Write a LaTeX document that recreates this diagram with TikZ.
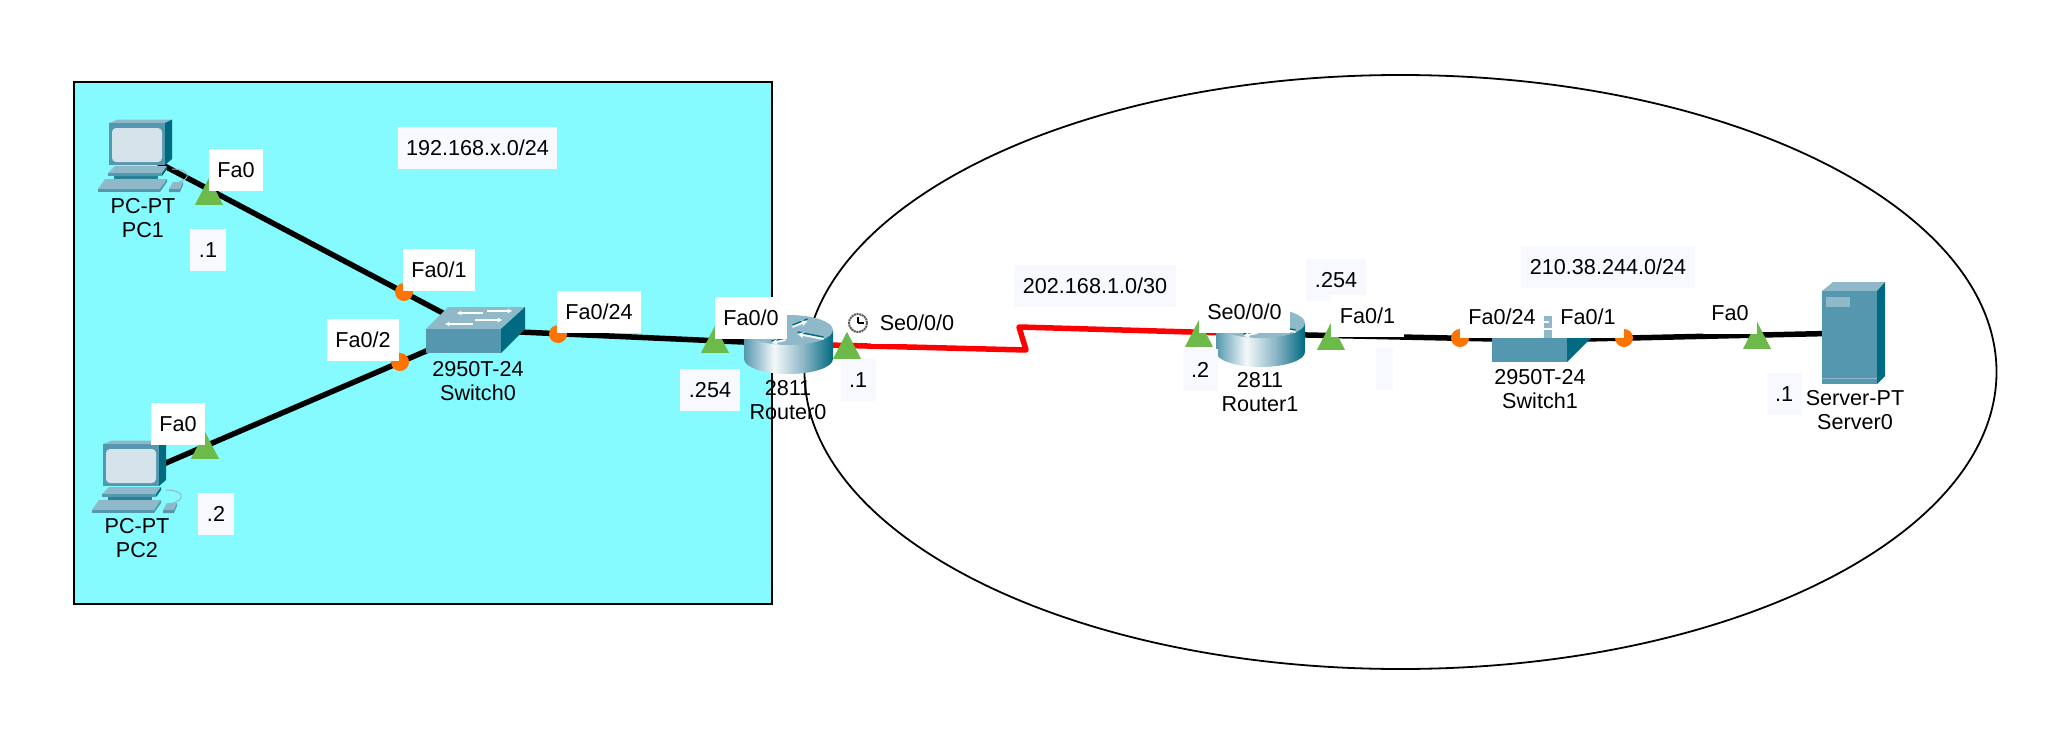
\documentclass[tikz,border=0pt]{standalone}
\usepackage{fontspec}
\usepackage{xcolor}
\usepackage{tikz}
\usetikzlibrary{shapes.geometric}
\setmainfont{Liberation Sans}

\definecolor{areacyan}{HTML}{85FBFF}
\definecolor{notefill}{HTML}{F7F9FF}
\definecolor{portgreen}{HTML}{6CBB4A}
\definecolor{portorange}{HTML}{FF7300}
\definecolor{icontop}{HTML}{8FB8C8}
\definecolor{iconfront}{HTML}{5497AE}
\definecolor{iconside}{HTML}{006A80}
\definecolor{iconneck}{HTML}{2A8098}
\definecolor{iconscreen}{HTML}{D5E4EB}

\pgfdeclarehorizontalshading{routerside}{100bp}{
    color(0bp)=(iconfront); color(25bp)=(iconfront); color(42bp)=(white!90!icontop);
    color(58bp)=(icontop); color(75bp)=(iconside); color(100bp)=(iconside)}

\tikzset{
    pcicon/.pic={
        \fill[icontop] (0,0) -- (9,-3.5) -- (63,-3.5) -- (56,0) -- cycle;
        \fill[iconside] (56,0) -- (63,-3.5) -- (63,36) -- (56,42) -- cycle;
        \fill[iconfront] (0,0) rectangle (56,42);
        \fill[iconscreen, rounded corners=4] (3,5) rectangle (53,39);
        \fill[iconneck] (5,50) rectangle (49,56);
        \fill[icontop] (-1,50) -- (6,43) -- (58,43) -- (53,50) -- cycle;
        \fill[iconfront] (-1,50) rectangle (53,53);
        \fill[iconside] (53,50) -- (58,43) -- (58,46) -- (53,53) -- cycle;
        \draw[icontop, line width=1] (63,46) .. controls (82,46) and (82,56) .. (70,59);
        \fill[icontop] (-11,66) -- (-4,56) -- (58,56) -- (51,66) -- cycle;
        \fill[iconfront] (-11,66) rectangle (51,69);
        \fill[iconfront] (51,66) -- (58,56) -- (58,59) -- (51,69) -- cycle;
        \fill[icontop] (60,66) -- (64,59) -- (74,59) -- (71,66) -- cycle;
        \fill[iconfront] (60,66) -- (71,66) -- (74,59) -- (74,62) -- (71,69) -- (60,69) -- cycle;
    },
    swicon/.pic={
        \fill[icontop] (0,0) -- (22,-22) -- (99,-22) -- (75,0) -- cycle;
        \fill[iconside] (75,0) -- (99,-22) -- (99,0) -- (75,24) -- cycle;
        \fill[iconfront] (0,0) rectangle (75,24);
        \draw[markarrow] (57,-16) -- (31,-16);
        \draw[markarrow] (61,-18) -- (86,-18);
        \draw[markarrow] (47,-5) -- (19,-5);
        \draw[markarrow] (49,-9) -- (76,-9);
    },
    routericon/.pic={
        \path[shading=routerside] (-44.5,0) -- (-44.5,29)
            arc[start angle=180, end angle=0, x radius=44.5, y radius=15]
            -- (44.5,0) -- cycle;
        \fill[icontop] (0,0) ellipse [x radius=44.5, y radius=15];
        % dark edge under the white marks
        \draw[iconside, line width=1.4pt] (4,-5) -- (19,-11);
        \draw[iconside, line width=1.4pt] (35,7) -- (9,2);
        \draw[iconside, line width=1.4pt] (-3,8) -- (-17,11);
        \draw[markarrow, line width=1.8pt] (4,-3) -- (19,-9);
        \draw[markarrow, line width=1.8pt] (35,9) -- (9,4);
        \draw[markarrow, line width=1.8pt] (-3,10) -- (-17,13);
        \draw[markarrow, line width=1.8pt] (-28,-4) -- (-10,-8);
    },
    servericon/.pic={
        \fill[icontop] (0,0) -- (11,-9) -- (63,-9) -- (55,0) -- cycle;
        \fill[iconside] (55,0) -- (63,-9) -- (63,85) -- (55,93) -- cycle;
        \fill[iconfront] (0,0) rectangle (55,93);
        \fill[icontop] (4,6) rectangle (28,16);
        \draw[icontop, line width=0.6] (0,87) -- (55,87);
    }
}

\begin{document}
\begin{tikzpicture}[x=1pt, y=-1pt,
    labelfont/.style={font=\fontsize{21.6}{24}\selectfont},
    portlabel/.style={labelfont, fill=white, inner xsep=8.5pt, inner ysep=0pt,
        text height=15.5pt, text depth=0pt, minimum height=42pt},
    notelabel/.style={portlabel, fill=notefill},
    devlabel/.style={labelfont, align=center, inner sep=0pt},
    device/.style={inner sep=0pt, minimum size=2pt},
    link/.style={line width=5.5pt, black},
    seriallink/.style={line width=5.5pt, red, line join=round},
    porttri/.style={shape=isosceles triangle, shape border rotate=90,
        isosceles triangle stretches, minimum width=28pt, minimum height=27pt,
        inner sep=0pt, fill=portgreen, anchor=lower side},
    portdot/.style={circle, fill=portorange, minimum size=18pt, inner sep=0pt},
    clockface/.style={circle, fill=white, draw=black!65, line width=2pt,
        dash pattern=on 2pt off 0.7pt, minimum size=18pt, inner sep=0pt},
    markarrow/.style={white, line width=1.1pt, -stealth}]

    \path[use as bounding box, fill=white] (0,0) rectangle (2066,752);

    % Areas
    \draw[fill=areacyan, line width=2.2pt] (74,82) rectangle (772,604);
    \draw[line width=1.8pt] (1400.5,372) ellipse [x radius=596, y radius=297];

    % Devices
    \node[device] (PC1) at (140,153) {};
    \node[device] (PC2) at (131,478) {};
    \node[device] (Switch0) at (475,330) {};
    \node[device] (Router0) at (788,344) {};
    \node[device] (Router1) at (1260,334) {};
    \node[device] (Switch1) at (1541,340) {};
    \node[device] (Server0) at (1850,333) {};
    \coordinate (bendA) at (1026,350);
    \coordinate (bendB) at (1019,327);

    % Links
    \draw[link] (PC1) -- (Switch0);
    \draw[link] (PC2) -- (Switch0);
    \draw[link] (Switch0) -- (Router0);
    \draw[seriallink] (Router0) -- (bendA) -- (bendB) -- (Router1);
    \draw[link] (Router1) -- (Switch1);
    \draw[link] (Switch1) -- (Server0);

    % Icons
    \pic at (109,123) {pcicon};
    \pic at (103,444) {pcicon};
    \pic at (426,329) {swicon};
    \pic at (788.5,330) {routericon};
    \pic at (1260.5,323) {routericon};
    \pic at (1492,338) {swicon};
    \pic at (1822,291) {servericon};

    % Port marks
    \node[porttri] (triPC1) at (209,205) {};
    \node[porttri] (triPC2) at (205,459) {};
    \node[porttri] (triR0a) at (715,353) {};
    \node[porttri] (triR0b) at (847,359) {};
    \node[porttri] (triR1a) at (1199,347) {};
    \node[porttri] (triR1b) at (1331,350) {};
    \node[porttri] (triSrv) at (1757,349) {};
    \node[portdot] (dotA) at (404,292) {};
    \node[portdot] (dotB) at (400,362) {};
    \node[portdot] (dotC) at (558,334) {};
    \node[portdot] (dotD) at (1460,338) {};
    \node[portdot] (dotE) at (1624,338) {};

    % Address notes
    \node[notelabel] (netLan) at (477.5,148) {192.168.x.0/24};
    \node[notelabel] (hostPC1) at (208,250) {.1};
    \node[notelabel] (hostPC2) at (216,514) {.2};
    \node[notelabel] (hostR0a) at (710,390) {.254};
    \node[notelabel] (hostR0b) at (858,380) {.1};
    \node[notelabel] (netWan) at (1095,286) {202.168.1.0/30};
    \node[notelabel] (hostR1a) at (1200,370) {.2};
    \node[notelabel] (hostR1b) at (1336,280) {.254};
    \node[notelabel] (hostBlank) at (1384,369) {};
    \node[notelabel] (netSrv) at (1608,267) {210.38.244.0/24};
    \node[notelabel] (hostSrv) at (1784,394) {.1};

    % Port names
    \node[portlabel] (faPC1) at (236,170) {Fa0};
    \node[portlabel] (faPC2) at (178,424) {Fa0};
    \node[portlabel] (faSw0a) at (439,270) {Fa0/1};
    \node[portlabel] (faSw0b) at (363,340) {Fa0/2};
    \node[portlabel] (faSw0c) at (599,312) {Fa0/24};
    \node[portlabel] (faR0) at (751,318) {Fa0/0};
    \node[portlabel] (seR0) at (917,323) {Se0/0/0};
    \node[portlabel] (seR1) at (1244.5,312) {Se0/0/0};
    \node[portlabel] (faR1) at (1367.5,316) {Fa0/1};
    \node[portlabel] (faSw1a) at (1502,317) {Fa0/24};
    \node[portlabel] (faSw1b) at (1588,317) {Fa0/1};
    \node[portlabel] (faSrv) at (1730,313) {Fa0};

    % Clock
    \node[clockface] (clock) at (858,323) {};
    \draw[line width=1.2pt] (clock.center) -- ++(0,-6);
    \draw[line width=1.2pt] (clock.center) -- ++(6,0);

    % Device names
    \node[devlabel] (namePC1) at (143,218) {PC-PT\\PC1};
    \node[devlabel] (namePC2) at (137,538) {PC-PT\\PC2};
    \node[devlabel] (nameSw0) at (478,381) {2950T-24\\Switch0};
    \node[devlabel] (nameR0) at (788,400) {2811\\Router0};
    \node[devlabel] (nameR1) at (1260,392) {2811\\Router1};
    \node[devlabel] (nameSw1) at (1540,389) {2950T-24\\Switch1};
    \node[devlabel] (nameSrv) at (1855,410) {Server-PT\\Server0};
\end{tikzpicture}
\end{document}
